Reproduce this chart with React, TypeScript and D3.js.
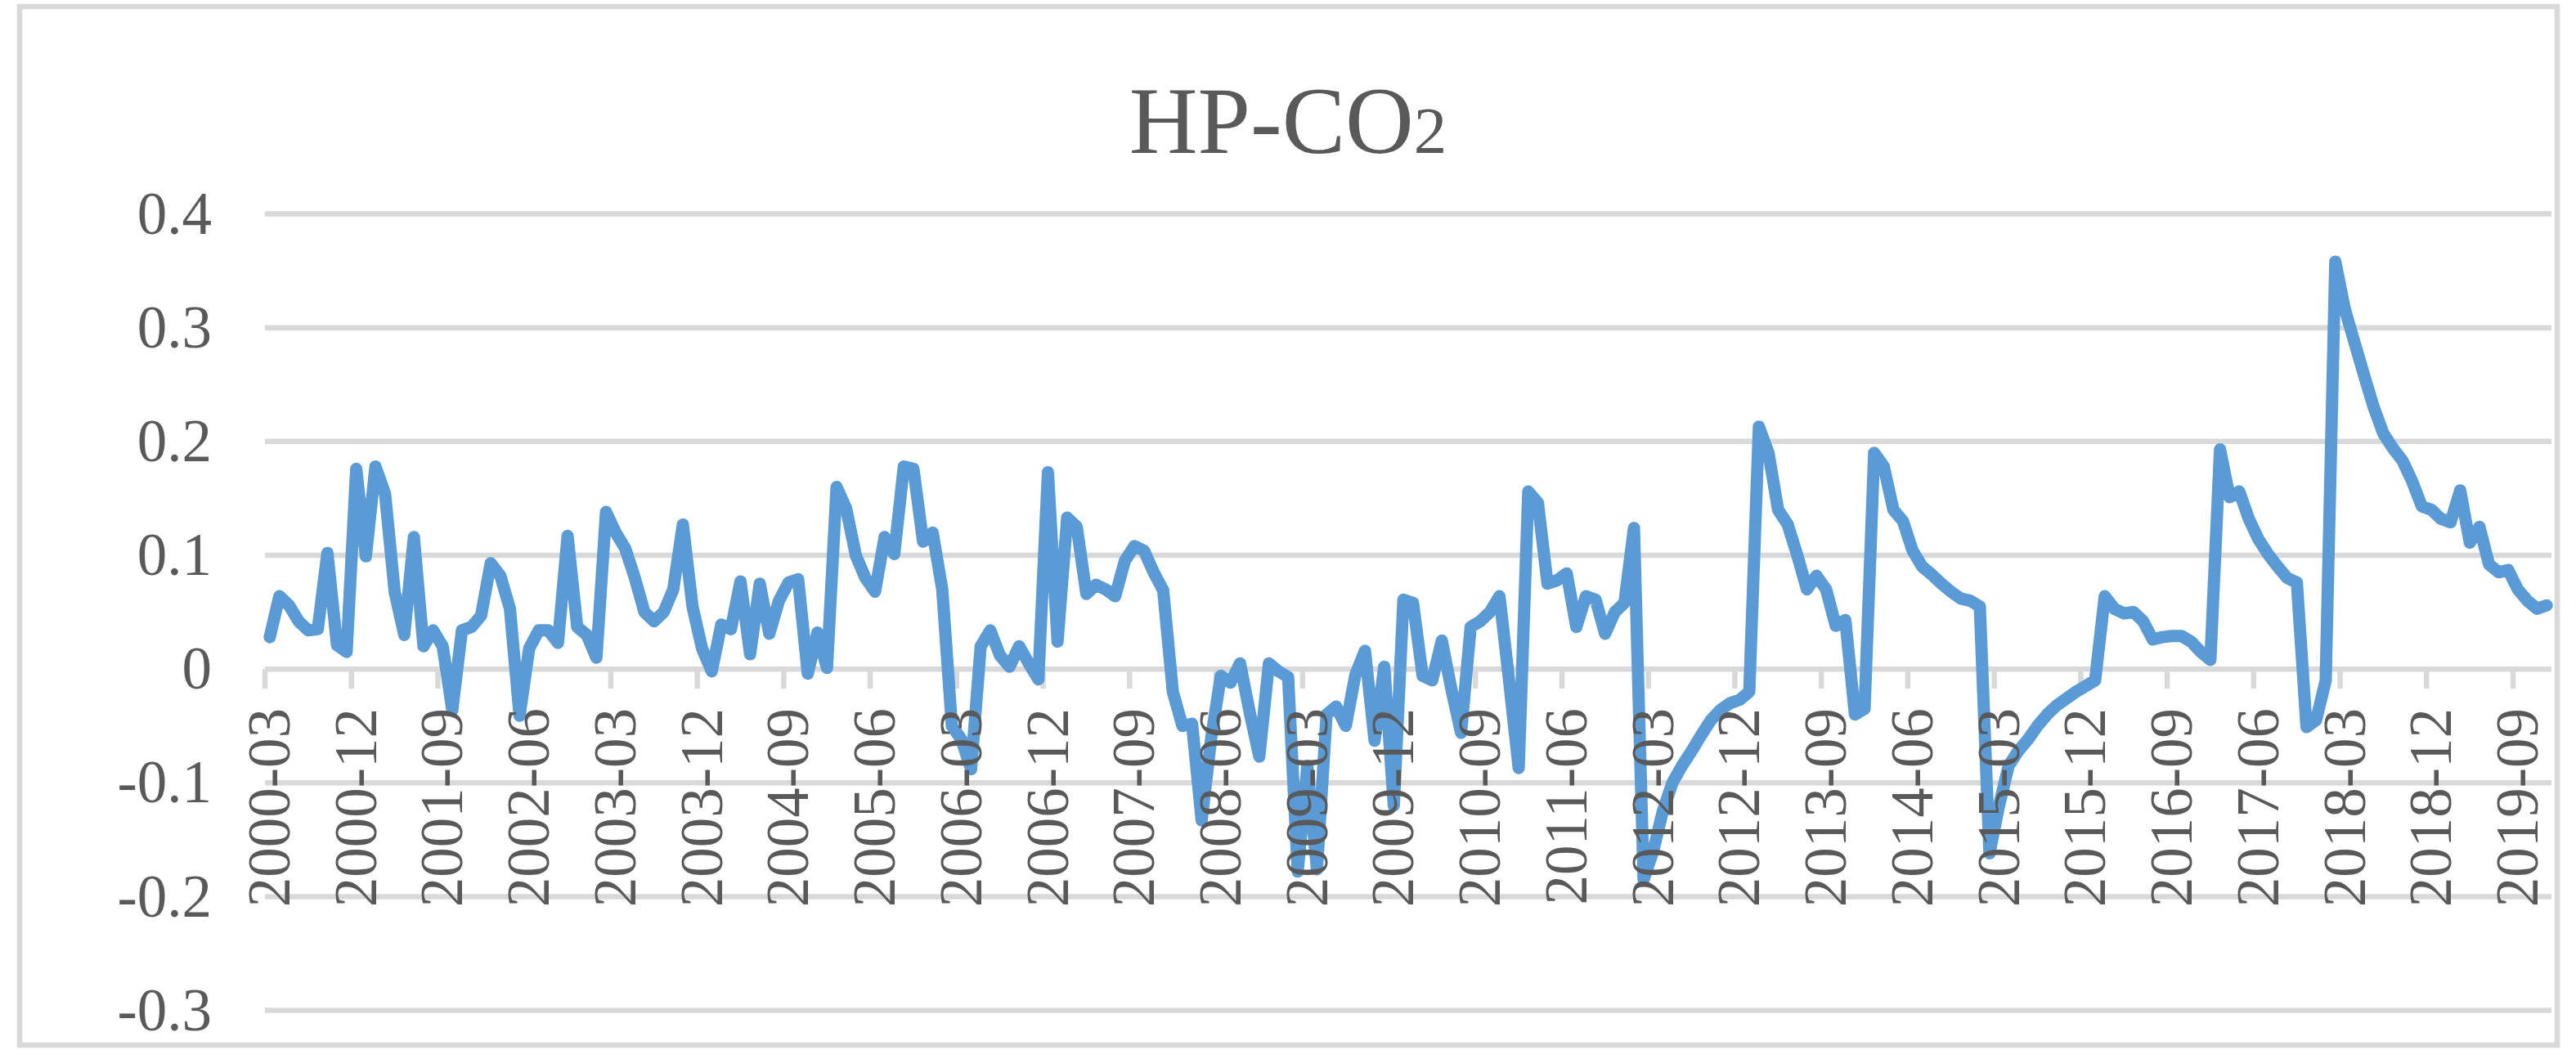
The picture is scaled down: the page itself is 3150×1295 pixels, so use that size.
import React from 'react';
import * as d3 from 'd3';

// ---------- data ----------
const TITLE_MAIN = 'HP-CO';
const TITLE_SUB = '2';

const START_YEAR = 2000;
const START_MONTH = 3;

const values: number[] = [
  0.028, 0.064, 0.056, 0.042, 0.034, 0.035, 0.102, 0.021, 0.015, 0.176,
  0.099, 0.178, 0.154, 0.068, 0.030, 0.116, 0.020, 0.034, 0.020, -0.036,
  0.034, 0.037, 0.047, 0.093, 0.082, 0.053, -0.041, 0.018, 0.034, 0.034,
  0.023, 0.117, 0.037, 0.030, 0.010, 0.138, 0.120, 0.106, 0.080, 0.050,
  0.042, 0.050, 0.070, 0.127, 0.055, 0.018, -0.002, 0.039, 0.035, 0.077,
  0.013, 0.075, 0.031, 0.060, 0.076, 0.079, -0.004, 0.032, 0.001, 0.160,
  0.141, 0.100, 0.080, 0.068, 0.116, 0.101, 0.178, 0.176, 0.112, 0.120,
  0.070, -0.050, -0.062, -0.088, 0.020, 0.034, 0.012, 0.002, 0.020, 0.005,
  -0.009, 0.173, 0.024, 0.133, 0.125, 0.066, 0.074, 0.070, 0.064, 0.095,
  0.108, 0.104, 0.085, 0.069, -0.020, -0.050, -0.048, -0.133, -0.060, -0.006,
  -0.012, 0.005, -0.038, -0.077, 0.005, -0.002, -0.007, -0.178, -0.085, -0.176,
  -0.040, -0.033, -0.050, -0.005, 0.016, -0.063, 0.002, -0.120, 0.061, 0.058,
  -0.006, -0.010, 0.025, -0.018, -0.056, 0.037, 0.042, 0.050, 0.064, -0.010,
  -0.087, 0.156, 0.146, 0.075, 0.078, 0.084, 0.037, 0.064, 0.061, 0.031,
  0.050, 0.058, 0.124, -0.185, -0.160, -0.125, -0.100, -0.085, -0.072, -0.058,
  -0.045, -0.036, -0.030, -0.027, -0.020, 0.213, 0.190, 0.140, 0.127, 0.100,
  0.070, 0.082, 0.070, 0.038, 0.043, -0.040, -0.035, 0.190, 0.178, 0.140,
  0.130, 0.104, 0.090, 0.083, 0.075, 0.068, 0.062, 0.060, 0.055, -0.162,
  -0.120, -0.085, -0.072, -0.062, -0.050, -0.040, -0.032, -0.026, -0.020, -0.015,
  -0.010, 0.064, 0.053, 0.049, 0.050, 0.042, 0.026, 0.028, 0.029, 0.029,
  0.024, 0.015, 0.008, 0.193, 0.151, 0.156, 0.132, 0.114, 0.101, 0.090,
  0.080, 0.076, -0.051, -0.045, -0.010, 0.358, 0.316, 0.287, 0.258, 0.230,
  0.207, 0.194, 0.183, 0.165, 0.143, 0.140, 0.132, 0.129, 0.157, 0.111,
  0.125, 0.092, 0.085, 0.087, 0.070, 0.060, 0.053, 0.056,
];

// monthly categories 2000-03 ... 2019-12
const categories: string[] = values.map((_, i) => {
  const m0 = START_MONTH - 1 + i;
  const yr = START_YEAR + Math.floor(m0 / 12);
  const mo = (m0 % 12) + 1;
  return `${yr}-${mo < 10 ? '0' + mo : mo}`;
});

const xTickLabels: string[] = [
  '2000-03', '2000-12', '2001-09', '2002-06', '2003-03', '2003-12', '2004-09',
  '2005-06', '2006-03', '2006-12', '2007-09', '2008-06', '2009-03', '2009-12',
  '2010-09', '2011-06', '2012-03', '2012-12', '2013-09', '2014-06', '2015-03',
  '2015-12', '2016-09', '2017-06', '2018-03', '2018-12', '2019-09',
];

const yTicks: number[] = [0.4, 0.3, 0.2, 0.1, 0, -0.1, -0.2, -0.3];
const yTickLabels: string[] = ['0.4', '0.3', '0.2', '0.1', '0', '-0.1', '-0.2', '-0.3'];

// ---------- style ----------
const FONT = '"Liberation Serif", "Times New Roman", Times, serif';
const TEXT = '#595959';
const GRID = '#d9d9d9';
const LINE = '#5b9bd5';

export default function App() {
  const W = 3150;
  const H = 1295;
  const plotLeft = 324;
  const plotRight = 3120;
  const plotTop = 261.5;
  const plotBottom = 1235.6;

  const x = d3.scalePoint<string>().domain(categories).range([plotLeft, plotRight]).padding(0.5);
  const step = x.step();
  const y = d3.scaleLinear().domain([-0.3, 0.4]).range([plotBottom, plotTop]);

  const lineGen = d3
    .line<number>()
    .x((_, i) => x(categories[i]) as number)
    .y((d) => y(d));

  const y0 = y(0);

  return (
    <svg
      width={W}
      height={H}
      viewBox={`0 0 ${W} ${H}`}
      style={{ position: 'absolute', left: 0, top: 0, display: 'block', background: '#fff' }}
    >
      <rect x={0} y={0} width={W} height={H} fill="#fff" />
      {/* chart border */}
      <rect x={24} y={8} width={3103} height={1270} fill="none" stroke={GRID} strokeWidth={6.5} />

      {/* title */}
      <text x={1575} y={187} textAnchor="middle" fontFamily={FONT} fontSize={116} fill={TEXT}>
        {TITLE_MAIN}
        <tspan fontSize={81}>{TITLE_SUB}</tspan>
      </text>

      {/* gridlines */}
      {yTicks.map((t) => (
        <line key={'g' + t} x1={plotLeft} x2={plotRight} y1={y(t)} y2={y(t)} stroke={GRID} strokeWidth={6.5} />
      ))}

      {/* x tick marks */}
      {xTickLabels.map((c) => {
        const tx = (x(c) as number) - step / 2;
        return <line key={'t' + c} x1={tx} x2={tx} y1={y0} y2={y0 + 24} stroke={GRID} strokeWidth={6.5} />;
      })}

      {/* series line */}
      <path
        d={lineGen(values) || ''}
        fill="none"
        stroke={LINE}
        strokeWidth={15}
        strokeLinejoin="round"
        strokeLinecap="round"
      />

      {/* y labels */}
      {yTicks.map((t, i) => (
        <text
          key={'yl' + t}
          x={259}
          y={y(t)}
          dy="0.33em"
          textAnchor="end"
          fontFamily={FONT}
          fontSize={73}
          fill={TEXT}
        >
          {yTickLabels[i]}
        </text>
      ))}

      {/* x labels */}
      {xTickLabels.map((c) => {
        const cx = x(c) as number;
        return (
          <text
            key={'xl' + c}
            transform={`translate(${cx},${866}) rotate(-90)`}
            dy="0.33em"
            textAnchor="end"
            fontFamily={FONT}
            fontSize={73}
            fill={TEXT}
          >
            {c}
          </text>
        );
      })}
    </svg>
  );
}
